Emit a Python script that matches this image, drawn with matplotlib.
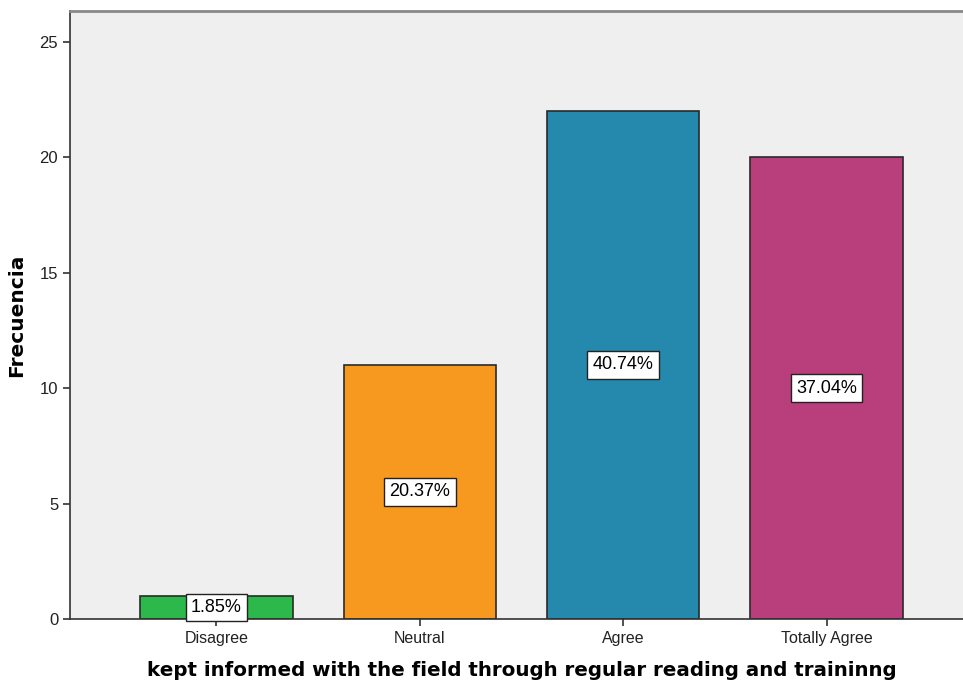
import matplotlib.pyplot as plt

categories = ["Disagree", "Neutral", "Agree", "Totally Agree"]
counts = [1, 11, 22, 20]
percent_labels = ["1.85%", "20.37%", "40.74%", "37.04%"]
colors = ["#2db84b", "#f7991f", "#2489ad", "#b83e7c"]

plt.rcParams["font.family"] = ["Liberation Sans", "DejaVu Sans"]

fig = plt.figure(figsize=(9.63, 6.85), dpi=100)
ax = fig.add_axes([70 / 963, 66 / 685, 903 / 963, 608 / 685])
ax.set_facecolor("#efefef")

x = list(range(len(categories)))
ax.bar(x, counts, width=0.75, color=colors, edgecolor="#2a2a2a", linewidth=1.2, zorder=2)

for xi, c, lab in zip(x, counts, percent_labels):
    ax.text(xi, c / 2, lab, ha="center", va="center", fontsize=13, zorder=3,
            bbox=dict(boxstyle="square,pad=0.3", facecolor="white", edgecolor="#222222", linewidth=1))

ax.set_xlim(-0.72, 3.72)
ax.set_ylim(0, 26.33)
ax.set_xticks(x)
ax.set_xticklabels(categories, fontsize=11.5)
ax.set_yticks([0, 5, 10, 15, 20, 25])
ax.tick_params(axis="both", direction="out", length=5, width=1.2, colors="#333333", labelcolor="#222222")
ax.tick_params(axis="y", labelsize=12)

for side in ["left", "bottom"]:
    ax.spines[side].set_color("#333333")
    ax.spines[side].set_linewidth(1.2)
ax.spines["top"].set_color("#888888")
ax.spines["top"].set_linewidth(2)
ax.spines["right"].set_visible(False)

ax.set_ylabel("Frecuencia", fontsize=14.5, fontweight="bold", family="DejaVu Sans", labelpad=10)
ax.set_xlabel("kept informed with the field through regular reading and traininng",
              fontsize=14.3, fontweight="bold", family="DejaVu Sans", labelpad=11)

fig.savefig("out.png", dpi=100)
